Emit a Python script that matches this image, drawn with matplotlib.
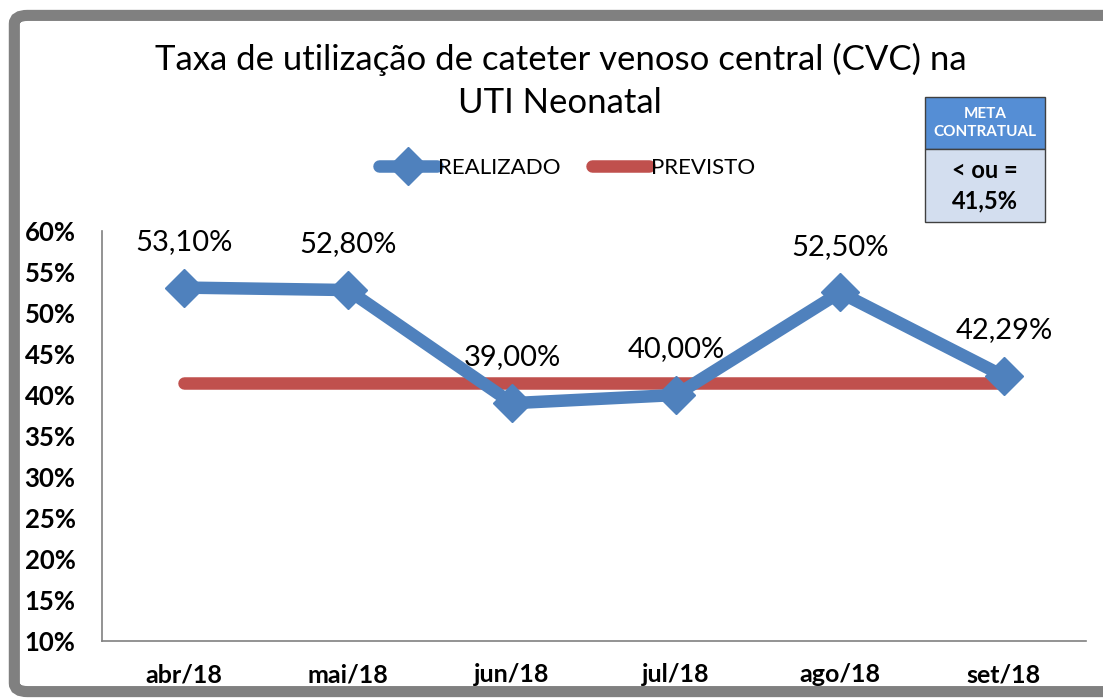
import matplotlib.pyplot as plt
from matplotlib.patches import FancyBboxPatch, Rectangle

meses = ["abr/18", "mai/18", "jun/18", "jul/18", "ago/18", "set/18"]
realizado = [53.10, 52.80, 39.00, 40.00, 52.50, 42.29]
previsto = [41.5, 41.5, 41.5, 41.5, 41.5, 41.5]
rotulos = ["53,10%", "52,80%", "39,00%", "40,00%", "52,50%", "42,29%"]
yticks = [10, 15, 20, 25, 30, 35, 40, 45, 50, 55, 60]

plt.rcParams['font.family'] = ['Lato', 'DejaVu Sans']

fig = plt.figure(figsize=(11.03, 7), dpi=100)

# moldura cinza externa
fig.patches.append(FancyBboxPatch((0.013, 0.012), 1.1, 0.966, boxstyle="round,pad=0,rounding_size=0.012",
                                  transform=fig.transFigure, facecolor='white', edgecolor='#808080',
                                  linewidth=8, zorder=-1))

ax = fig.add_axes([0.0925, 0.0843, 0.892, 0.5857])
x = list(range(len(meses)))

ax.plot(x, previsto, color='#C0504D', linewidth=9, solid_capstyle='round', label='PREVISTO', zorder=2)
ax.plot(x, realizado, color='#4F81BD', linewidth=9, marker='D', markersize=19,
        solid_capstyle='round', label='REALIZADO', zorder=3)

for xi, yi, lab in zip(x, realizado, rotulos):
    ax.annotate(lab, (xi, yi), xytext=(0, 33), textcoords='offset points',
                ha='center', va='center', fontsize=21, color='black')

ax.set_xlim(-0.5, len(meses) - 0.5)
ax.set_ylim(10, 60)
ax.set_yticks(yticks)
ax.set_yticklabels([f"{v}%" for v in yticks], fontsize=18.5, fontweight='bold')
ax.set_xticks(x)
ax.set_xticklabels(meses, fontsize=18, fontweight='bold')
ax.tick_params(axis='both', length=0)
ax.tick_params(axis='x', pad=16)
ax.tick_params(axis='y', pad=19)
for s in ['top', 'right']:
    ax.spines[s].set_visible(False)
for s in ['left', 'bottom']:
    ax.spines[s].set_color('#808080')
    ax.spines[s].set_linewidth(1.2)

fig.text(0.508, 0.915, "Taxa de utilização de cateter venoso central (CVC) na",
         ha='center', va='center', fontsize=25)
fig.text(0.508, 0.853, "UTI Neonatal", ha='center', va='center', fontsize=25)

h, l = ax.get_legend_handles_labels()
leg = fig.legend([h[1], h[0]], [l[1], l[0]], loc='center', bbox_to_anchor=(0.514, 0.76),
                 ncol=2, frameon=False, fontsize=16, handlelength=2.6, columnspacing=1.4,
                 handletextpad=0.05)

# caixa da meta
bx0, bx1 = 925 / 1103, 1045 / 1103
ytop, ymid, ybot = 1 - 97 / 700, 1 - 149 / 700, 1 - 222 / 700
fig.patches.append(Rectangle((bx0, ymid), bx1 - bx0, ytop - ymid, transform=fig.transFigure,
                             facecolor='#558ED5', edgecolor='#404040', linewidth=1))
fig.patches.append(Rectangle((bx0, ybot), bx1 - bx0, ymid - ybot, transform=fig.transFigure,
                             facecolor='#D3DEEF', edgecolor='#404040', linewidth=1))
fig.text((bx0 + bx1) / 2, (ytop + ymid) / 2, "META\nCONTRATUAL", ha='center', va='center',
         fontsize=11, fontweight='bold', color='white', linespacing=1.3)
fig.text((bx0 + bx1) / 2, (ymid + ybot) / 2, "< ou =\n41,5%", ha='center', va='center',
         fontsize=17, fontweight='bold', color='black', linespacing=1.4)

fig.savefig("out.png", dpi=100)
